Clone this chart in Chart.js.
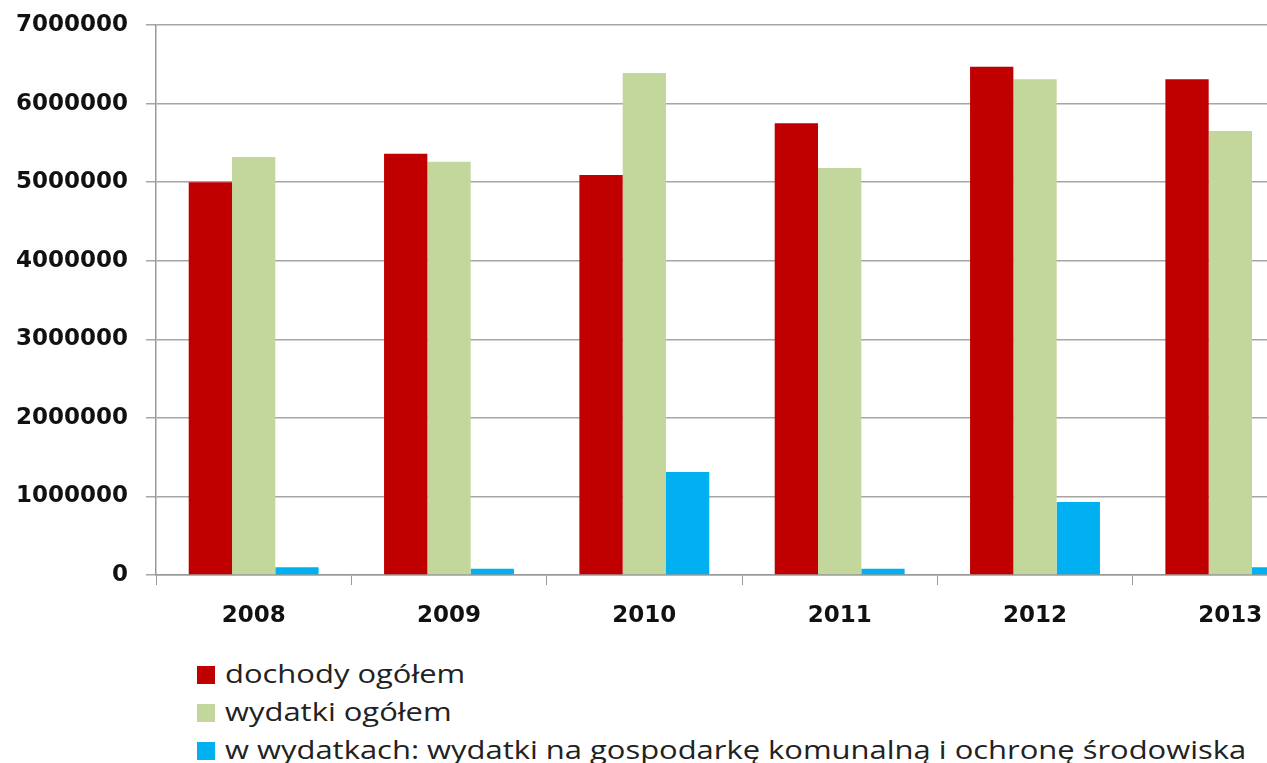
<!DOCTYPE html>
<html>
<head>
<meta charset="utf-8">
<script src="https://cdn.jsdelivr.net/npm/chart.js@4/dist/chart.umd.min.js"></script>
<style>
  html, body { margin: 0; padding: 0; background: #fff; overflow: hidden; }
  #wrap { position: relative; width: 1267px; height: 763px; overflow: hidden; }
  #chart { position: absolute; left: 0; top: 0; }
  #legend { position: absolute; left: 197px; top: 654px; font-family: 'Open Sans', sans-serif; font-size: 26px; color: #222; }
  #legend div { height: 38px; line-height: 38px; white-space: nowrap; }
  #legend span.box { display: inline-block; width: 18px; height: 18px; margin-right: 10px; vertical-align: -1px; }
  #legend span.txt { display: inline-block; transform: scaleX(1.19); transform-origin: left center; }
</style>
</head>
<body>
<div id="wrap">
  <canvas id="chart" width="1340" height="640"></canvas>
  <div id="legend"></div>
</div>
<script>
const years = ['2008', '2009', '2010', '2011', '2012', '2013'];
const dochody = [5000000, 5360000, 5090000, 5750000, 6470000, 6310000];
const wydatki = [5320000, 5260000, 6390000, 5180000, 6310000, 5650000];
const komunalne = [100000, 80000, 1310000, 80000, 930000, 100000];
const seriesNames = [
    'dochody ogółem',
    'wydatki ogółem',
    'w wydatkach: wydatki na gospodarkę komunalną i ochronę środowiska',
];
const seriesColors = ['#C00000', '#C3D69B', '#00B0F0'];

const tickFont = { family: "'DejaVu Sans', Verdana, sans-serif", size: 23, weight: 'bold' };

const chartEl = document.getElementById('chart');
new Chart(chartEl, {
    type: 'bar',
    data: {
        labels: years,
        datasets: [dochody, wydatki, komunalne].map((values, i) => ({
            label: seriesNames[i],
            data: values,
            backgroundColor: seriesColors[i],
            borderWidth: 0,
            categoryPercentage: 0.665,
            barPercentage: 1.0,
        })),
    },
    options: {
        responsive: false,
        animation: false,
        devicePixelRatio: 1,
        layout: { padding: { top: 25, right: 12, left: 0, bottom: 0 } },
        plugins: {
            legend: { display: false },
            tooltip: { enabled: false },
        },
        scales: {
            x: {
                grid: { display: true, drawOnChartArea: false, offset: true, color: '#999', tickLength: 10 },
                border: { color: '#999', width: 1.5 },
                ticks: { color: '#111', font: tickFont, padding: 17 },
                afterFit: (scale) => { scale.height = 65; },
            },
            y: {
                min: 0,
                max: 7000000,
                grid: { color: '#a6a6a6', lineWidth: 1.5, tickLength: 10 },
                border: { color: '#999', width: 1.5 },
                ticks: {
                    stepSize: 1000000,
                    color: '#111',
                    font: tickFont,
                    padding: 18,
                    callback: (value) => String(value),
                },
                afterFit: (scale) => {
                    scale.width = 156;
                    scale.paddingTop = 0;
                    scale.paddingBottom = 0;
                },
            },
        },
    },
});

const legendEl = document.getElementById('legend');
seriesNames.forEach((name, i) => {
    const row = document.createElement('div');
    row.innerHTML = `<span class="box" style="background:${seriesColors[i]}"></span><span class="txt">${name}</span>`;
    legendEl.appendChild(row);
});
</script>
</body>
</html>
